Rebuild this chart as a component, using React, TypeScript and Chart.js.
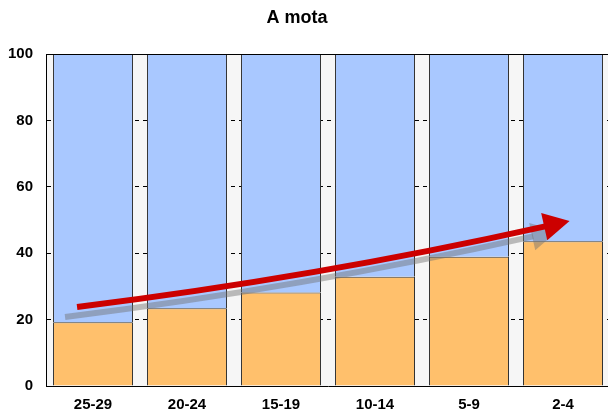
import React, { useEffect, useRef } from "react";
import { Chart, registerables } from "chart.js";

Chart.register(...registerables);

// Age groups along the x axis
const categories = ["25-29", "20-24", "15-19", "10-14", "5-9", "2-4"];
// Share (%) in the lower, orange segment
const orangeValues = [19.2, 23.4, 28.2, 32.9, 38.9, 43.6];
// Upper, blue segment fills each column to 100
const blueValues = orangeValues.map((v) => 100 - v);
const yTicks = [0, 20, 40, 60, 80, 100];

// Trend arrow, in data coordinates (category index, value)
const arrowStart = { x: -0.17, y: 23.8 };
const arrowControl = { x: 2.5, y: 33.5 };
const arrowTip = { x: 5.07, y: 49.7 };

const titleText = "A mota";
const FONT = "'Liberation Sans', Arial, Helvetica, sans-serif";

const plotBackground = {
  id: "plotBackground",
  beforeDraw(chart: any) {
    const { ctx, chartArea: a } = chart;
    ctx.save();
    ctx.fillStyle = "#f6f6f6";
    ctx.fillRect(a.left, a.top, a.right - a.left, a.bottom - a.top);
    ctx.restore();
  },
  afterDatasetsDraw(chart: any) {
    const { ctx, chartArea: a } = chart;
    ctx.save();
    ctx.strokeStyle = "#000";
    ctx.lineWidth = 1;
    ctx.beginPath();
    ctx.moveTo(a.left, a.top + 0.5);
    ctx.lineTo(a.right, a.top + 0.5);
    ctx.stroke();
    ctx.restore();
  },
};

const titlePlugin = {
  id: "titleText",
  afterDraw(chart: any) {
    const { ctx } = chart;
    ctx.save();
    ctx.font = `bold 18px ${FONT}`;
    ctx.fillStyle = "#000";
    ctx.textAlign = "center";
    ctx.textBaseline = "middle";
    ctx.fillText(titleText, 297, 18);
    ctx.restore();
  },
};

const trendArrow = {
  id: "trendArrow",
  afterDatasetsDraw(chart: any) {
    const { ctx } = chart;
    const xs = chart.scales.x;
    const ys = chart.scales.y;
    const p = (pt: { x: number; y: number }) => ({
      x: xs.getPixelForValue(pt.x),
      y: ys.getPixelForValue(pt.y),
    });
    const p0 = p(arrowStart);
    const c = p(arrowControl);
    const tip = p(arrowTip);
    const headLen = 26;
    const headHalf = 14;
    const dx = tip.x - c.x;
    const dy = tip.y - c.y;
    const len = Math.hypot(dx, dy);
    const ux = dx / len;
    const uy = dy / len;
    const base = { x: tip.x - ux * headLen, y: tip.y - uy * headLen };
    const cc = { x: c.x - ux * headLen * 0.5, y: c.y - uy * headLen * 0.5 };

    const drawShape = (ox: number, oy: number, color: string) => {
      ctx.save();
      ctx.translate(ox, oy);
      ctx.strokeStyle = color;
      ctx.fillStyle = color;
      ctx.lineWidth = 6;
      ctx.lineCap = "butt";
      ctx.beginPath();
      ctx.moveTo(p0.x, p0.y);
      ctx.quadraticCurveTo(cc.x, cc.y, base.x + ux, base.y + uy);
      ctx.stroke();
      ctx.beginPath();
      ctx.moveTo(tip.x, tip.y);
      ctx.lineTo(base.x - uy * headHalf, base.y + ux * headHalf);
      ctx.lineTo(base.x + uy * headHalf, base.y - ux * headHalf);
      ctx.closePath();
      ctx.fill();
      ctx.restore();
    };

    drawShape(-12, 10, "rgba(110,110,110,0.45)");
    drawShape(0, 0, "#cc0000");
  },
};

export default function App() {
  const canvasRef = useRef<HTMLCanvasElement | null>(null);

  useEffect(() => {
    const canvas = canvasRef.current;
    if (!canvas) return;
    const chart = new Chart(canvas, {
      type: "bar",
      data: {
        labels: categories,
        datasets: [
          {
            data: orangeValues,
            backgroundColor: "#ffc06c",
            borderColor: "#333333",
            borderWidth: 1,
            barPercentage: 0.851,
            categoryPercentage: 1,
          },
          {
            data: blueValues,
            backgroundColor: "#a9c8ff",
            borderColor: "#333333",
            borderWidth: 1,
            barPercentage: 0.851,
            categoryPercentage: 1,
          },
        ],
      },
      options: {
        responsive: false,
        animation: false,
        devicePixelRatio: 1,
        layout: { padding: { top: 54, left: -5, right: 10, bottom: -10 } },
        plugins: {
          legend: { display: false },
          title: { display: false },
          tooltip: { enabled: false },
        },
        scales: {
          x: {
            stacked: true,
            grid: { display: false, drawTicks: false, tickLength: 0 },
            border: { display: true, color: "#000", width: 1 },
            ticks: {
              color: "#000",
              padding: 10,
              font: { family: FONT, size: 15, weight: "bold" },
            },
          },
          y: {
            stacked: true,
            min: 0,
            max: 100,
            afterBuildTicks: (scale: any) => {
              scale.ticks = yTicks.map((v) => ({ value: v }));
            },
            grid: {
              drawTicks: false,
              tickLength: 0,
              lineWidth: 1,
              color: (ctx: any) =>
                ctx.tick && (ctx.tick.value === 0 || ctx.tick.value === 100)
                  ? "rgba(0,0,0,0)"
                  : "#000",
            },
            border: { display: true, color: "#000", width: 1, dash: [4, 4] },
            ticks: {
              color: "#000",
              padding: 13,
              font: { family: FONT, size: 15, weight: "bold" },
            },
          },
        },
      },
      plugins: [plotBackground, trendArrow, titlePlugin],
    } as any);
    return () => chart.destroy();
  }, []);

  return (
    <div
      style={{
        position: "fixed",
        left: 0,
        top: 0,
        width: 608,
        height: 414,
        overflow: "hidden",
        background: "#fff",
      }}
    >
      <canvas
        ref={canvasRef}
        width={620}
        height={414}
        style={{ width: 620, height: 414, display: "block" }}
      />
    </div>
  );
}
